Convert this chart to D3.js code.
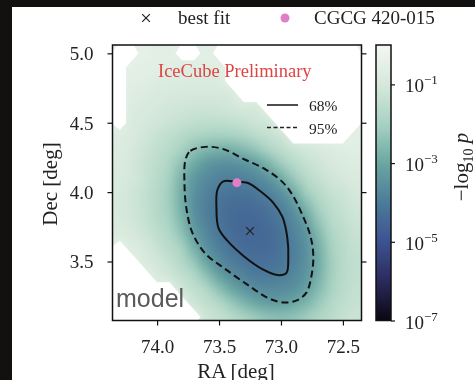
<!DOCTYPE html>
<html>
<head>
<meta charset="utf-8">
<script src="https://cdn.jsdelivr.net/npm/d3@7"></script>
<style>
  body { margin: 0; background: #131110; }
  #chart { position: relative; width: 475px; height: 380px; overflow: hidden; }
  #panel { position: absolute; left: 12px; top: 7px; right: 0; bottom: 0; background: #fff; }
  #heat, #overlay { position: absolute; left: 0; top: 0; }
  text { font-family: "Liberation Serif", "Times New Roman", serif; fill: #222; }
</style>
</head>
<body>
<div id="chart">
  <div id="panel"></div>
  <canvas id="heat"></canvas>
  <svg id="overlay" width="475" height="380"></svg>
</div>
<script>
// grid of the p-value map (cell centres, deg)
const raCenters = [74.3, 74.2, 74.1, 74.0, 73.9, 73.8, 73.7, 73.6, 73.5, 73.4,
                   73.3, 73.2, 73.1, 73.0, 72.9, 72.8, 72.7, 72.6, 72.5, 72.4];
const decCenters = [5.0, 4.9, 4.8, 4.7, 4.6, 4.5, 4.4, 4.3, 4.2, 4.1,
                    4.0, 3.9, 3.8, 3.7, 3.6, 3.5, 3.4, 3.3, 3.2, 3.1];

// -log10 p per cell, rows from Dec 5.0 down to 3.1, null = not scanned
const negLog10P = [
  [null, null, 0.5, 0.55, 0.55, null, null, 0.6, null, null, null, null, null, null, null, null, null, null, null, null],
  [null, 0.5, 0.55, 0.6, 0.65, 0.65, 0.65, 0.65, 0.6, null, null, null, null, null, null, null, null, null, null, null],
  [null, 0.6, 0.65, 0.75, 0.8, 0.8, 0.85, 0.85, 0.8, null, null, null, null, null, null, null, null, null, null, null],
  [null, 0.7, 0.8, 0.9, 0.95, 1.0, 1.0, 1.0, 1.0, 0.9, null, null, null, null, null, null, null, null, null, null],
  [null, 0.8, 0.9, 1.0, 1.1, 1.15, 1.2, 1.2, 1.2, 1.1, 1.0, 1.0, null, null, null, null, null, null, null, null],
  [null, 0.85, 1.0, 1.1, 1.25, 1.35, 1.45, 1.5, 1.5, 1.45, 1.35, 1.2, 1.1, null, null, null, null, null, null, null],
  [0.75, 0.9, 1.1, 1.3, 1.5, 1.65, 1.9, 2.0, 2.05, 2.0, 1.85, 1.6, 1.4, 1.2, null, null, null, null, null, 0.6],
  [0.8, 1.0, 1.2, 1.45, 1.65, 2.0, 2.4, 2.65, 2.8, 2.8, 2.6, 2.3, 1.9, 1.55, 1.3, 1.1, 0.95, 0.8, 0.7, 0.65],
  [0.85, 1.05, 1.3, 1.55, 1.85, 2.4, 2.9, 3.33, 3.49, 3.52, 3.42, 3.17, 2.69, 2.15, 1.69, 1.4, 1.16, 0.98, 0.85, 0.75],
  [0.9, 1.06, 1.3, 1.6, 2.03, 2.69, 3.32, 3.63, 3.81, 3.89, 3.85, 3.69, 3.41, 2.87, 2.2, 1.68, 1.37, 1.15, 1.0, 0.85],
  [0.95, 1.15, 1.4, 1.7, 2.09, 2.83, 3.47, 3.81, 4.05, 4.16, 4.16, 4.06, 3.82, 3.48, 2.85, 2.1, 1.65, 1.35, 1.2, 1.0],
  [1.0, 1.15, 1.4, 1.7, 2.1, 2.82, 3.52, 3.9, 4.17, 4.33, 4.37, 4.3, 4.12, 3.81, 3.4, 2.63, 1.95, 1.55, 1.3, 1.1],
  [0.95, 1.1, 1.35, 1.65, 2.0, 2.66, 3.43, 3.87, 4.18, 4.39, 4.46, 4.44, 4.31, 4.06, 3.68, 3.13, 2.27, 1.7, 1.45, 1.2],
  [0.85, 1.0, 1.2, 1.5, 1.8, 2.38, 3.2, 3.73, 4.1, 4.34, 4.46, 4.47, 4.39, 4.18, 3.85, 3.41, 2.6, 1.9, 1.55, 1.3],
  [null, 0.8, 1.0, 1.3, 1.6, 2.0, 2.79, 3.51, 3.91, 4.19, 4.37, 4.42, 4.38, 4.2, 3.92, 3.53, 2.83, 2.05, 1.65, 1.4],
  [null, null, 0.85, 1.1, 1.4, 1.75, 2.29, 3.09, 3.61, 3.95, 4.15, 4.27, 4.25, 4.13, 3.88, 3.53, 2.89, 2.12, 1.65, 1.45],
  [null, null, null, 0.9, 1.15, 1.45, 1.8, 2.44, 3.15, 3.58, 3.84, 4.0, 4.03, 3.94, 3.72, 3.42, 2.81, 2.1, 1.65, 1.45],
  [null, null, null, null, null, 1.15, 1.45, 1.8, 2.42, 2.98, 3.41, 3.61, 3.69, 3.65, 3.49, 3.16, 2.57, 1.99, 1.6, 1.4],
  [null, null, null, null, null, null, 1.2, 1.45, 1.75, 2.22, 2.67, 3.0, 3.2, 3.2, 3.0, 2.69, 2.23, 1.8, 1.5, 1.35],
  [null, null, null, null, null, null, null, 1.2, 1.4, 1.65, 1.95, 2.22, 2.42, 2.48, 2.39, 2.16, 1.87, 1.62, 1.4, 1.25]
];

// containment contours [RA, Dec]
const contour68 = [
  [73.465, 4.078], [73.36, 4.074], [73.271, 4.067], [73.166, 4.006], [73.062, 3.923],
  [72.989, 3.823], [72.949, 3.672], [72.941, 3.528], [72.957, 3.416], [73.029, 3.402],
  [73.142, 3.441], [73.295, 3.535], [73.433, 3.650], [73.505, 3.743], [73.521, 3.887],
  [73.513, 4.017]
];
const contour95 = [
  [73.771, 4.233], [73.731, 4.297], [73.61, 4.326], [73.473, 4.312], [73.304, 4.240],
  [73.126, 4.164], [72.989, 4.074], [72.908, 3.981], [72.828, 3.837], [72.763, 3.686],
  [72.739, 3.542], [72.755, 3.391], [72.795, 3.276], [72.868, 3.222], [72.973, 3.204],
  [73.102, 3.236], [73.271, 3.333], [73.465, 3.456], [73.61, 3.556], [73.715, 3.707],
  [73.763, 3.880], [73.779, 4.060]
];

const bestFit = [73.25, 3.72];
const cgcg420015 = [73.356, 4.068];

const raTicks = [74.0, 73.5, 73.0, 72.5];
const decTicks = [3.5, 4.0, 4.5, 5.0];
const pTicks = [1e-1, 1e-3, 1e-5, 1e-7];

// colour map, p = 1e-7 ... 1
const cmap = ['#0b0612', '#2b2a5c', '#3d5291', '#4c7b9a', '#6aa7a2', '#a8d2c2', '#d6e9db', '#f3f7f2'];

const box = {left: 112.5, top: 45, right: 361.5, bottom: 320.5};
const cbar = {left: 376, width: 15};
const half = 0.05;   // half a grid cell

const x = d3.scaleLinear().domain([74.36, 72.35]).range([box.left, box.right]);
const y = d3.scaleLinear().domain([3.075, 5.06]).range([box.bottom, box.top]);
const color = d3.scaleSequentialLog(d3.piecewise(d3.interpolateRgb, cmap)).domain([1e-7, 1]);
const cb = d3.scaleLog().domain([1e-7, 1]).range([box.bottom, box.top]);

const pw = box.right - box.left, ph = box.bottom - box.top;
const nx = raCenters.length, ny = decCenters.length;

// grid index -> pixel (cell i spans [i, i+1])
const gx = d3.scaleLinear().domain([0, nx]).range([x(raCenters[0] + half), x(raCenters[nx - 1] - half)]);
const gy = d3.scaleLinear().domain([0, ny]).range([y(decCenters[0] + half), y(decCenters[ny - 1] - half)]);

// heat map: small image of the grid, scaled up smoothly
const small = document.createElement('canvas');
small.width = nx;
small.height = ny;
const sctx = small.getContext('2d');
const img = sctx.createImageData(nx, ny);
negLog10P.forEach((row, j) => row.forEach((v, i) => {
  const c = d3.rgb(color(Math.pow(10, -(v == null ? 0.5 : v))));
  const k = 4 * (j * nx + i);
  img.data[k] = c.r; img.data[k + 1] = c.g; img.data[k + 2] = c.b; img.data[k + 3] = 255;
}));
sctx.putImageData(img, 0, 0);

const heat = d3.select('#heat')
  .attr('width', Math.round(pw)).attr('height', Math.round(ph))
  .style('left', box.left + 'px').style('top', box.top + 'px');
const ctx = heat.node().getContext('2d');
ctx.imageSmoothingEnabled = true;
ctx.imageSmoothingQuality = 'high';
ctx.drawImage(small, gx(0) - box.left - 1.5, gy(0) - box.top - 1.5,
  gx(nx) - gx(0) + 1.5, gy(ny) - gy(0) + 1.5);

const svg = d3.select('#overlay');
const defs = svg.append('defs');
defs.append('clipPath').attr('id', 'clip').append('rect')
  .attr('x', box.left).attr('y', box.top).attr('width', pw).attr('height', ph);

// unscanned region, traced on the grid
const maskValues = [];
negLog10P.forEach(row => row.forEach(v => maskValues.push(v == null ? 1 : 0)));
const maskShape = d3.contours().size([nx, ny]).thresholds([0.5])(maskValues)[0];
const toPixels = d3.geoTransform({
  point(px, py) {
    this.stream.point(px <= 0 ? box.left - 2 : gx(px), py <= 0 ? box.top - 2 : gy(py));
  }
});
svg.append('path').datum(maskShape)
  .attr('clip-path', 'url(#clip)')
  .attr('d', d3.geoPath(toPixels))
  .attr('fill', '#fff');

// contours
const line = d3.line().x(d => x(d[0])).y(d => y(d[1])).curve(d3.curveCatmullRomClosed.alpha(0.5));
svg.append('path').datum(contour95).attr('d', line)
  .attr('fill', 'none').attr('stroke', '#111').attr('stroke-width', 2).attr('stroke-dasharray', '7,4');
svg.append('path').datum(contour68).attr('d', line)
  .attr('fill', 'none').attr('stroke', '#111').attr('stroke-width', 2);

// markers
svg.append('path').attr('d', d3.symbol(d3.symbolX, 40)())
  .attr('transform', `translate(${x(bestFit[0])},${y(bestFit[1])})`)
  .attr('fill', 'none').attr('stroke', '#222').attr('stroke-width', 1.2);
svg.append('circle').attr('cx', x(cgcg420015[0])).attr('cy', y(cgcg420015[1]))
  .attr('r', 4.5).attr('fill', '#e07fc8');

// frame and axes
svg.append('rect').attr('x', box.left).attr('y', box.top).attr('width', pw).attr('height', ph)
  .attr('fill', 'none').attr('stroke', '#111').attr('stroke-width', 1.5);

function styleAxis(g) {
  g.attr('font-family', null).attr('font-size', null);
  g.select('.domain').remove();
  g.selectAll('.tick line').attr('stroke', '#111').attr('stroke-width', 1.2);
  g.selectAll('.tick text').attr('font-size', 19).attr('fill', '#222');
}

svg.append('g').attr('transform', `translate(0,${box.bottom})`)
  .call(d3.axisBottom(x).tickValues(raTicks).tickSize(5).tickFormat(d3.format('.1f')))
  .call(styleAxis)
  .selectAll('.tick text').attr('y', 32).attr('dy', null);

svg.append('g').attr('transform', `translate(${box.left},0)`)
  .call(d3.axisLeft(y).tickValues(decTicks).tickSize(5).tickPadding(14).tickFormat(d3.format('.1f')))
  .call(styleAxis)
  .selectAll('.tick text').attr('dy', '0.34em');

svg.append('g').attr('transform', `translate(${box.right},0)`)
  .call(d3.axisRight(y).tickValues(decTicks).tickSize(5).tickFormat(''))
  .call(styleAxis);

svg.append('text').attr('transform', 'translate(57,184) rotate(-90)')
  .attr('text-anchor', 'middle').attr('font-size', 21).text('Dec [deg]');
svg.append('text').attr('x', 236).attr('y', 378)
  .attr('text-anchor', 'middle').attr('font-size', 21).text('RA [deg]');

// colour bar
const grad = defs.append('linearGradient').attr('id', 'cbgrad')
  .attr('x1', 0).attr('y1', 1).attr('x2', 0).attr('y2', 0);
d3.range(0, 1.0001, 0.02).forEach(t => {
  grad.append('stop').attr('offset', t).attr('stop-color', color(Math.pow(10, -7 + 7 * t)));
});
svg.append('rect').attr('x', cbar.left).attr('y', box.top)
  .attr('width', cbar.width).attr('height', ph)
  .attr('fill', 'url(#cbgrad)').attr('stroke', '#111').attr('stroke-width', 1.5);
svg.append('g').attr('transform', `translate(${cbar.left + cbar.width},0)`)
  .call(d3.axisRight(cb).tickValues(pTicks).tickSize(4).tickFormat(''))
  .call(styleAxis);

const cbLabels = svg.append('g').selectAll('text').data(pTicks).join('text')
  .attr('x', 405).attr('y', d => cb(d) + 8).attr('font-size', 19);
cbLabels.append('tspan').text('10');
cbLabels.append('tspan').attr('font-size', 13).attr('dy', -8)
  .text(d => '\u2212' + Math.abs(Math.round(Math.log10(d))));

const cbTitle = svg.append('text').attr('transform', 'translate(468,167) rotate(-90)')
  .attr('text-anchor', 'middle').attr('font-size', 21);
cbTitle.append('tspan').text('\u2212log');
cbTitle.append('tspan').attr('font-size', 14).attr('dy', 5).text('10');
cbTitle.append('tspan').attr('dy', -5).attr('font-style', 'italic').text(' p');

// top legend
svg.append('path').attr('d', d3.symbol(d3.symbolX, 40)())
  .attr('transform', 'translate(146,18)')
  .attr('fill', 'none').attr('stroke', '#222').attr('stroke-width', 1.2);
svg.append('text').attr('x', 178).attr('y', 24).attr('font-size', 19).text('best fit');
svg.append('circle').attr('cx', 285).attr('cy', 18).attr('r', 4.5).attr('fill', '#e07fc8');
svg.append('text').attr('x', 314).attr('y', 24).attr('font-size', 19).text('CGCG 420-015');

// annotations
svg.append('text').attr('x', 158).attr('y', 77).attr('font-size', 18.5)
  .style('fill', '#dd4444').text('IceCube Preliminary');

const contourLegend = [{label: '68%', dash: null}, {label: '95%', dash: '4,2.5'}];
const lg = svg.append('g').selectAll('g').data(contourLegend).join('g')
  .attr('transform', (d, i) => `translate(267,${105 + i * 22.5})`);
lg.append('line').attr('x1', 0).attr('x2', 31)
  .attr('stroke', '#222').attr('stroke-width', 1.6).attr('stroke-dasharray', d => d.dash);
lg.append('text').attr('x', 42).attr('y', 6).attr('font-size', 15.5).text(d => d.label);

svg.append('text').attr('x', 116).attr('y', 307).attr('font-size', 25)
  .style('font-family', '"Liberation Sans", Arial, sans-serif').style('fill', '#5a5a5a').text('model');
</script>
</body>
</html>
